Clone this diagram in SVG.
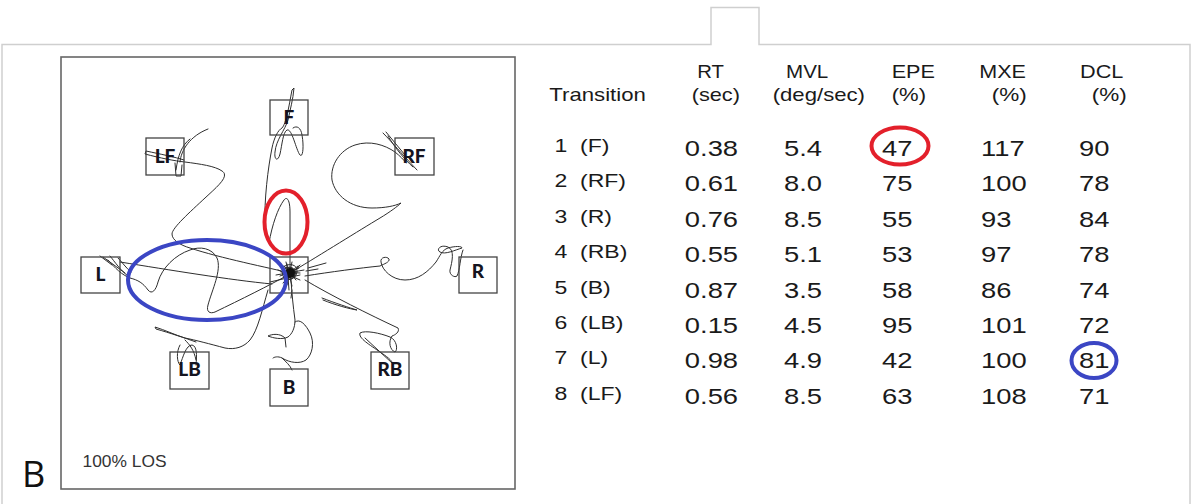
<svg xmlns="http://www.w3.org/2000/svg" width="1192" height="504" viewBox="0 0 1192 504">
<style>
.frame{fill:none;stroke:#cfcfcf;stroke-width:1.5}
.plot{fill:none;stroke:#666;stroke-width:1.6}
.box{fill:none;stroke:#444;stroke-width:1.3}
.lbl{font-family:Lato,"Liberation Sans",sans-serif;font-weight:900;font-size:19px;fill:#141420;text-anchor:middle}
.tr{fill:none;stroke:#2e2e2e;stroke-width:1;stroke-linecap:round;stroke-linejoin:round}
.hd{font-family:"Liberation Sans",Arial,sans-serif;font-size:19px;fill:#1a1a1a}
.val{font-family:"Liberation Sans",Arial,sans-serif;font-size:21.4px;fill:#1a1a1a}
.rl{font-family:"Liberation Sans",Arial,sans-serif;font-size:18px;fill:#1a1a1a}
.red{fill:none;stroke:#e3202b;stroke-width:4}
.blue{fill:none;stroke:#3b46c4;stroke-width:4}
</style>
<rect width="1192" height="504" fill="#fff"/>
<path class="frame" d="M2,504 V44.5 H711 V7.5 H759 V44.5 H1190 V504"/>
<text x="22" y="487" font-family="'Open Sans','Liberation Sans',sans-serif" font-size="36" fill="#111">B</text>
<rect class="plot" x="61" y="57" width="454" height="432"/>
<text x="82.5" y="467" font-family="'Liberation Sans',Arial,sans-serif" font-size="16.5" fill="#333" textLength="84" lengthAdjust="spacingAndGlyphs">100% LOS</text>

<g id="trajectories">
<path class="tr" d="M290,276 L290,240 L290,212 C290,200 287,196 284,200 C278,208 272,225 269,243"/>
<path class="tr" d="M265,225 C264,200 268,168 272,148 C274,138 278,130 282,128 C286,124 289,106 292,90 L294,88 C293,100 290,110 288,120 C285,130 276,140 275,152 C274,160 278,162 280,154 C282,145 283,132 287,130 C292,128 296,150 300,155 C303,158 304,146 302,135 C301,128 297,125 293,128"/>
<path class="tr" d="M290,273 C270,268 220,258 190,248 C180,245 172,240 172,234 C172,228 190,212 205,198 C218,186 230,176 222,171 C215,166 200,164 185,162 C175,161 160,158 145,154 L146,151 C160,154 175,157 184,160"/>
<path class="tr" d="M180,162 C181,150 190,136 208,129 M175,163 L176,176 L181,176 L182,165 M176,170 C178,155 182,145 190,139"/>
<path class="tr" d="M288,275 C270,285 240,300 215,312 C210,314 206,312 208,305 C212,290 222,270 217,258 C212,248 200,246 190,250 C175,255 162,268 158,282 C156,290 152,295 148,290 C143,283 138,280 130,278 C122,275 115,268 108,260"/>
<path class="tr" d="M103,257 C110,262 118,268 125,273 M110,256 C115,262 120,270 128,276 M100,256 L112,265 M118,258 C122,262 126,268 131,272"/>
<path class="tr" d="M120,262 C170,270 230,280 272,284"/>
<path class="tr" d="M295,270 C320,255 360,230 380,218 C390,212 398,206 401,203 C395,206 385,208 372,208 C350,208 335,195 332,180 C330,165 340,150 355,145 C370,140 385,145 395,152 C400,156 404,160 406,163"/>
<path class="tr" d="M383,133 C392,142 400,152 417,170 M386,132 L405,155 M388,136 C395,148 405,160 413,167"/>
<path class="tr" d="M305,276 C330,272 360,268 380,266 C384,264 390,262 389,259 C387,256 380,257 381,262 C382,270 392,280 405,280 C418,280 428,272 436,262 C440,256 442,250 448,248 C455,246 462,246 462,248 C455,250 445,255 440,252 C436,250 440,244 448,247 C455,250 452,262 450,270 C449,275 455,278 457,276 C460,270 460,258 463,250"/>
<path class="tr" d="M305,280 C330,295 370,315 398,328 C400,332 395,335 392,336 C388,342 390,350 395,352 C398,350 397,340 390,337 C380,333 365,330 360,333 C358,338 370,345 380,352 C386,356 392,360 393,364 M365,338 L392,363"/>
<path class="tr" d="M322,298 C335,303 350,308 357,310 C350,309 335,305 323,300"/>
<path class="tr" d="M291,280 C292,295 293,305 295,320 C295,328 292,334 288,337 C282,340 273,338 268,336 C272,334 280,333 285,338 L286,347"/>
<path class="tr" d="M295,322 C300,318 306,325 310,333 C315,343 312,355 306,360 C300,364 290,363 282,358 C278,356 274,357 273,358 M282,358 C286,362 290,365 292,370"/>
<path class="tr" d="M268,290 C262,310 258,330 250,340 C244,347 235,350 225,348 C210,344 195,340 185,338 C175,335 165,330 155,327 L156,329 C170,333 185,338 196,342"/>
<path class="tr" d="M180,345 C176,352 177,362 180,365 C183,357 186,345 192,345 C197,346 197,355 196,365 M185,340 C190,345 194,350 196,360"/>
<path class="tr" d="M284,266 L296,280 M283,278 L298,266 M286,262 L292,286 M281,272 L300,273 M278,270 L300,280 M292,262 L287,285 M276,275 L304,270 M300,265 L283,283 M270,282 L300,275 M308,268 L326,263 M306,271 L318,269 M285,268 C292,265 298,270 294,277 C290,282 283,279 285,272 C287,267 295,268 296,274 M282,268 C288,262 298,264 297,272 C296,280 286,282 283,276 C281,271 286,266 292,268 C297,270 296,278 290,279 M287,264 L289,290 M280,276 L299,268 M292,290 L291,298"/>
<circle cx="290" cy="273" r="5" fill="#111"/>
</g>

<g id="node-F"><rect class="box" x="270" y="100" width="38" height="35"/><text class="lbl" x="289" y="124">F</text></g>
<g id="node-LF"><rect class="box" x="146" y="138" width="38" height="37"/><text class="lbl" x="165" y="163">LF</text></g>
<g id="node-RF"><rect class="box" x="395" y="138" width="39" height="37"/><text class="lbl" x="414" y="163">RF</text></g>
<g id="node-L"><rect class="box" x="81" y="257" width="39" height="36"/><text class="lbl" x="100.5" y="281">L</text></g>
<g id="node-C"><rect class="box" x="270" y="257" width="38" height="36"/></g>
<g id="node-R"><rect class="box" x="459" y="257" width="38" height="36"/><text class="lbl" x="478" y="278">R</text></g>
<g id="node-LB"><rect class="box" x="170" y="352" width="39" height="37"/><text class="lbl" x="189.5" y="376">LB</text></g>
<g id="node-B"><rect class="box" x="270" y="369" width="38" height="37"/><text class="lbl" x="289" y="394">B</text></g>
<g id="node-RB"><rect class="box" x="371" y="352" width="38" height="37"/><text class="lbl" x="390" y="376">RB</text></g>

<ellipse class="red" cx="286" cy="222" rx="21.5" ry="31.5"/>
<ellipse class="blue" cx="207" cy="280" rx="79" ry="40"/>

<g id="table">
<text class="hd" x="549.3" y="100.5" textLength="96.5" lengthAdjust="spacingAndGlyphs">Transition</text>
<text class="hd" x="697.3" y="78" textLength="26.7" lengthAdjust="spacingAndGlyphs">RT</text>
<text class="hd" x="691.7" y="101" textLength="48.3" lengthAdjust="spacingAndGlyphs">(sec)</text>
<text class="hd" x="786" y="78" textLength="42.3" lengthAdjust="spacingAndGlyphs">MVL</text>
<text class="hd" x="772.7" y="101" textLength="92.3" lengthAdjust="spacingAndGlyphs">(deg/sec)</text>
<text class="hd" x="891.7" y="78" textLength="43.3" lengthAdjust="spacingAndGlyphs">EPE</text>
<text class="hd" x="891.7" y="101" textLength="34.3" lengthAdjust="spacingAndGlyphs">(%)</text>
<text class="hd" x="979.3" y="78" textLength="46.7" lengthAdjust="spacingAndGlyphs">MXE</text>
<text class="hd" x="991.7" y="101" textLength="35" lengthAdjust="spacingAndGlyphs">(%)</text>
<text class="hd" x="1080" y="78" textLength="43.3" lengthAdjust="spacingAndGlyphs">DCL</text>
<text class="hd" x="1091.7" y="101" textLength="35" lengthAdjust="spacingAndGlyphs">(%)</text>

<g class="rl" transform="translate(554.5,0) scale(1.28,1)">
<text y="152">1</text><text y="187.4">2</text><text y="222.8">3</text><text y="258.2">4</text><text y="293.6">5</text><text y="329">6</text><text y="364.4">7</text><text y="399.8">8</text>
</g>
<g class="rl" transform="translate(580,0) scale(1.28,1)">
<text y="152">(F)</text><text y="187.4">(RF)</text><text y="222.8">(R)</text><text y="258.2">(RB)</text><text y="293.6">(B)</text><text y="329">(LB)</text><text y="364.4">(L)</text><text y="399.8">(LF)</text>
</g>
<g class="val" transform="translate(684.8,0) scale(1.28,1)">
<text y="156">0.38</text><text y="191.4">0.61</text><text y="226.8">0.76</text><text y="262.2">0.55</text><text y="297.6">0.87</text><text y="333">0.15</text><text y="368.4">0.98</text><text y="403.8">0.56</text>
</g>
<g class="val" transform="translate(784,0) scale(1.28,1)">
<text y="156">5.4</text><text y="191.4">8.0</text><text y="226.8">8.5</text><text y="262.2">5.1</text><text y="297.6">3.5</text><text y="333">4.5</text><text y="368.4">4.9</text><text y="403.8">8.5</text>
</g>
<g class="val" transform="translate(882,0) scale(1.28,1)">
<text y="156">47</text><text y="191.4">75</text><text y="226.8">55</text><text y="262.2">53</text><text y="297.6">58</text><text y="333">95</text><text y="368.4">42</text><text y="403.8">63</text>
</g>
<g class="val" transform="translate(981,0) scale(1.28,1)">
<text y="156">117</text><text y="191.4">100</text><text y="226.8">93</text><text y="262.2">97</text><text y="297.6">86</text><text y="333">101</text><text y="368.4">100</text><text y="403.8">108</text>
</g>
<g class="val" transform="translate(1079,0) scale(1.28,1)">
<text y="156">90</text><text y="191.4">78</text><text y="226.8">84</text><text y="262.2">78</text><text y="297.6">74</text><text y="333">72</text><text y="368.4">81</text><text y="403.8">71</text>
</g>
<ellipse class="red" cx="900" cy="146" rx="28.5" ry="18.5" stroke-width="3.5"/>
<ellipse class="blue" cx="1094" cy="360.5" rx="22.5" ry="17.5" stroke-width="3.2"/>
</g>
</svg>
